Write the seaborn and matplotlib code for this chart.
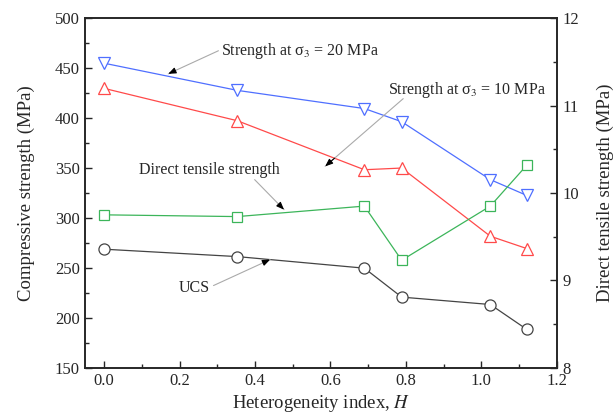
import matplotlib
matplotlib.use("Agg")
import matplotlib.pyplot as plt
import seaborn as sns
import pandas as pd
from matplotlib.ticker import MultipleLocator

sns.set_style("ticks")
plt.rcParams['font.family'] = ['Liberation Serif', 'DejaVu Serif']
plt.rcParams['mathtext.fontset'] = 'stix'

H = [0.0, 0.353, 0.690, 0.789, 1.024, 1.121]
s20 = [455.0, 427.8, 409.6, 396.4, 338.4, 322.5]
s10 = [429.8, 397.4, 348.3, 350.0, 281.7, 269.3]
ucs = [268.7, 261.3, 249.7, 220.7, 213.3, 188.3]
dts = [9.75, 9.73, 9.85, 9.23, 9.85, 10.32]

W, Hpx = 613, 416
fig = plt.figure(figsize=(W / 100, Hpx / 100), dpi=100)
ax = fig.add_axes([85.3 / W, 1 - 367.7 / Hpx, (556.7 - 85.3) / W, (367.7 - 18.3) / Hpx])
ax2 = ax.twinx()

blue = '#4f6fff'
red = '#ff4a4a'
green = '#3cb55a'
black = '#444444'

df = pd.DataFrame({'H': H, 's20': s20, 's10': s10, 'ucs': ucs, 'dts': dts})
mk = dict(markersize=8, markerfacecolor='white', markeredgewidth=0.9, linewidth=0.9)
sns.lineplot(data=df, x='H', y='s20', ax=ax, color=blue, marker='v', markeredgecolor=blue, **mk)
sns.lineplot(data=df, x='H', y='s10', ax=ax, color=red, marker='^', markeredgecolor=red, **mk)
sns.lineplot(data=df, x='H', y='ucs', ax=ax, color=black, marker='o', markeredgecolor=black, **mk)
sns.lineplot(data=df, x='H', y='dts', ax=ax2, color=green, marker='s', markeredgecolor=green,
             markersize=7.5, markerfacecolor='white', markeredgewidth=0.9, linewidth=0.9)

ax.set_xlim(-0.05, 1.2)
ax.set_ylim(150, 500)
ax2.set_ylim(8, 12)
ax.xaxis.set_minor_locator(MultipleLocator(0.1))
ax.yaxis.set_major_locator(MultipleLocator(50))
ax.yaxis.set_minor_locator(MultipleLocator(25))
ax2.yaxis.set_major_locator(MultipleLocator(1))
ax2.yaxis.set_minor_locator(MultipleLocator(0.5))
ax.set_xticks([0, 0.2, 0.4, 0.6, 0.8, 1.0, 1.2])
ax.set_xticklabels(['0.0', '0.2', '0.4', '0.6', '0.8', '1.0', '1.2'])

for a in (ax, ax2):
    a.tick_params(which='both', direction='in', labelsize=12, width=1, pad=4)
    a.tick_params(which='major', length=5)
    a.tick_params(which='minor', length=3)
    for s in a.spines.values():
        s.set_linewidth(1.2)
ax.tick_params(axis='x', which='both', top=False)
ax.tick_params(axis='y', which='both', right=False)

ax.set_xlabel('Heterogeneity index, $\\mathit{H}$', fontsize=13.5, labelpad=3)
ax.set_ylabel('Compressive strength (MPa)', fontsize=13.5, labelpad=14)
ax2.set_ylabel('Direct tensile strength (MPa)', fontsize=13.5, labelpad=13)

def callout(text, txy, line_start, tip, ha='left'):
    ax.text(txy[0], txy[1], text, fontsize=11.5, ha=ha, va='center')
    ax.annotate('', xy=tip, xytext=line_start,
                arrowprops=dict(arrowstyle='-', color='#aaaaaa', lw=0.8, shrinkA=0, shrinkB=0))
    dx = tip[0] - line_start[0]
    dy = tip[1] - line_start[1]
    back = (tip[0] - dx * 0.12, tip[1] - dy * 0.12)
    ax.annotate('', xy=tip, xytext=back,
                arrowprops=dict(arrowstyle='-|>,head_length=0.45,head_width=0.18', color='black',
                                lw=0.8, shrinkA=0, shrinkB=0))

callout('Strength at σ$_3$ = 20 MPa', (0.31, 467.5), (0.303, 467.5), (0.17, 444.4))
callout('Strength at σ$_3$ = 10 MPa', (0.752, 427.8), (0.793, 419.5), (0.586, 351.7))
callout('Direct tensile strength', (0.28, 347.7), (0.399, 338.4), (0.477, 308.3), ha='center')
callout('UCS', (0.24, 230), (0.29, 232.3), (0.44, 258.3), ha='center')

fig.savefig('out.png', dpi=100)
